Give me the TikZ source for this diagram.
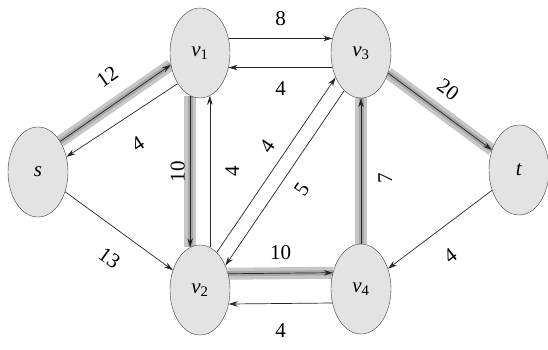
\documentclass[tikz,border=0pt]{standalone}
\usepackage{fontspec}
\setmainfont{Liberation Serif}
\usetikzlibrary{shapes.geometric, arrows.meta, backgrounds}

\tikzset{
  vertex/.style  = {ellipse, draw=black!75, fill=gray!22, thin,
                    minimum width=60pt, minimum height=90pt, inner sep=0pt,
                    font=\fontsize{21}{24}\selectfont},
  resid/.style   = {draw=black!85, line width=0.7pt,
                    -{Stealth[length=9pt, width=5.5pt]}},
  augment/.style = {resid,
                    preaction={draw=gray!45, line width=12pt, -},
                    preaction={draw=gray!70, line width=5pt, -}},
  amount/.style  = {inner sep=2pt, font=\fontsize{21}{24}\selectfont},
}

\begin{document}
\begin{tikzpicture}[x=1pt, y=1pt]
\useasboundingbox (0,0) rectangle (548,349);

% vertices
\node[vertex] (s)  at ( 38, 177) {\textit{s}};
\node[vertex] (v1) at (200, 296) {\textit{v}\textsubscript{1}};
\node[vertex] (v3) at (361, 296) {\textit{v}\textsubscript{3}};
\node[vertex] (t)  at (519, 179) {\textit{t}};
\node[vertex] (v2) at (200,  59) {\textit{v}\textsubscript{2}};
\node[vertex] (v4) at (361,  60) {\textit{v}\textsubscript{4}};

\begin{scope}[on background layer]
% augmenting path
\draw[augment] (s.54)   -- node[amount, sloped, above=17pt, pos=.56] {12} (v1.202);
\draw[augment] (v1.257) -- node[amount, rotate=90, above=3pt] {10} (v2.103);
\draw[augment] (v2.30)  -- node[amount, above=11pt] {10} (v4.150);
\draw[augment] (v4)     -- node[amount, rotate=90, below=15pt, pos=.45] {7} (v3);
\draw[augment] (v3)     -- node[amount, sloped, above=13pt, pos=.45] {20} (t);

% other residual edges
\draw[resid] (v1.234) -- node[amount, sloped, below=19pt] {4} (s.28);
\draw[resid] (v1.27)  -- node[amount, above=10pt] {8} (v3.153);
\draw[resid] (v3.207) -- node[amount, below=12pt] {4} (v1.333);
\draw[resid] (v2.77)  -- node[amount, rotate=90, below=13pt] {4} (v1.283);
\draw[resid] (v2.66)  -- node[amount, sloped, above=9pt, pos=.55] {4} (v3.224);
\draw[resid] (v3.246) -- node[amount, sloped, below=11pt] {5} (v2.44);
\draw[resid] (v4.206) -- node[amount, below=18pt] {4} (v2.334);
\draw[resid] (t)      -- node[amount, sloped, below=18pt, pos=.56] {4} (v4);
\draw[resid] (s)      -- node[amount, sloped, below=18pt, pos=.56] {13} (v2);
\end{scope}

\end{tikzpicture}
\end{document}
